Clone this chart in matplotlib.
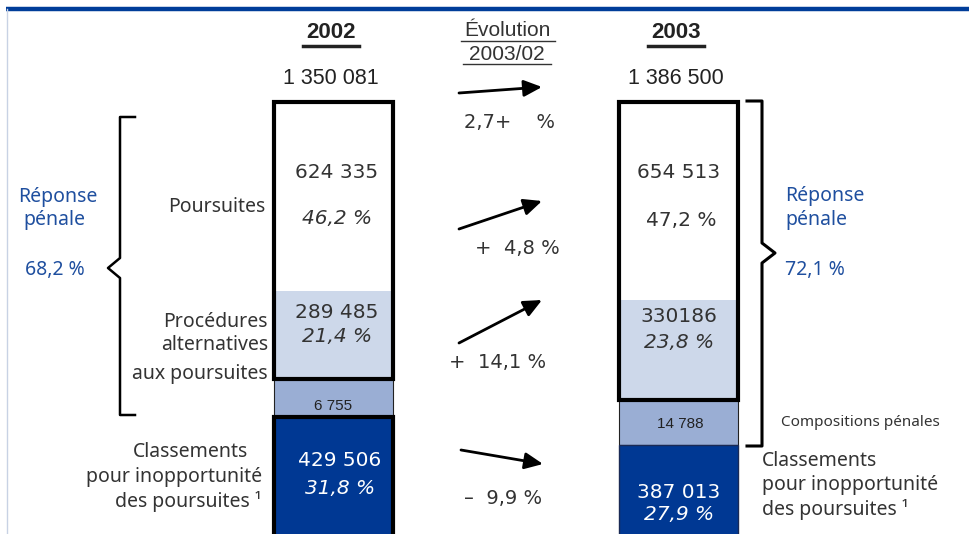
import numpy as np
import matplotlib.pyplot as plt

# data
years = ["2002", "2003"]
totals = ["1 350 081", "1 386 500"]
poursuites = np.array([624335, 654513])
alternatives = np.array([289485, 330186])
compositions = np.array([6755, 14788])
classements = np.array([429506, 387013])
lab_poursuites = ["624 335", "654 513"]
lab_alternatives = ["289 485", "330186"]
lab_compositions = ["6 755", "14 788"]
lab_classements = ["429 506", "387 013"]
pct_poursuites = ["46,2 %", "47,2 %"]
pct_alternatives = ["21,4 %", "23,8 %"]
pct_classements = ["31,8 %", "27,9 %"]
reponse_penale = ["68,2 %", "72,1 %"]
evolutions = ["2,7+    %", "+  4,8 %", "+  14,1 %", "\u2013  9,9 %"]

BLUE_TXT = "#1f4f9f"
LIGHT = "#cdd8ea"
MID = "#9aaed4"
DARK = "#003893"
GREY = "#333333"
BODY = ["Noto Sans", "DejaVu Sans"]
NUM = ["DejaVu Sans"]
NARROW = ["Liberation Sans Narrow", "Liberation Sans", "DejaVu Sans"]

fig = plt.figure(figsize=(9.7, 5.34), dpi=100)

# bars: y in counts, K counts per pixel, bar top at pixel 102
K = 3300
axb = fig.add_axes([0, 0, 1, 1], label="bars")
axb.set_xlim(0, 970)
axb.set_ylim(432 * K, -102 * K)
axb.axis("off")

xpos = np.array([334, 679])
width = 119
# compositions are enlarged in the original drawing so they stay visible
comp_shown = np.maximum(compositions * 10, 125000)

axb.bar(xpos, poursuites, width, bottom=0, color="white", zorder=1)
axb.bar(xpos, alternatives, width, bottom=poursuites, color=LIGHT, zorder=1)
axb.bar(xpos, comp_shown, width, bottom=poursuites + alternatives,
        color=MID, edgecolor="#222222", linewidth=0.8, zorder=2)
bot_cl = poursuites + alternatives + comp_shown
axb.bar(xpos, classements, width, bottom=bot_cl, color=DARK,
        edgecolor=["black", "#1a2a55"], linewidth=[3, 1], zorder=2)
axb.bar(xpos, poursuites + alternatives, width, bottom=0, fill=False,
        edgecolor="black", linewidth=3, zorder=3)

# overlay in pixel coordinates for the text
ax = fig.add_axes([0, 0, 1, 1], label="text")
ax.set_xlim(0, 970)
ax.set_ylim(534, 0)
ax.axis("off")
ax.patch.set_alpha(0)

# frame lines
ax.plot([6, 970], [9, 9], color="#003d99", lw=3.2, solid_capstyle="butt")
ax.plot([7, 7], [9, 534], color="#c8d2e4", lw=1)

# headers
for x, y, t in zip(xpos, years, totals):
    ax.text(x - 3, 33, y, ha="center", va="center", fontsize=16, fontweight="bold",
            family=NARROW, color="#222222")
    ax.plot([x - 31, x + 25], [46, 46], color="#222222", lw=2.5)
    ax.text(x - 3, 79, t, ha="center", va="center", fontsize=15.5, family=NARROW,
            color="#222222")
ax.text(507, 30, "Évolution", ha="center", va="center", fontsize=15,
        family=NARROW, color="#333333")
ax.plot([461, 555], [41, 41], color="#333333", lw=1)
ax.text(507, 54, "2003/02", ha="center", va="center", fontsize=15,
        family=NARROW, color="#333333")
ax.plot([463, 551], [64, 64], color="#333333", lw=1)

# arrows and evolution labels
arrows = [((459, 93), (542, 87)), ((459, 229), (542, 201)),
          ((459, 343), (542, 300)), ((461, 450), (543, 464))]
ev_pos = [(510, 122), (517, 248), (498, 363), (503, 499)]
for (p0, p1), (tx, ty), lab in zip(arrows, ev_pos, evolutions):
    ax.annotate("", xy=p1, xytext=p0,
                arrowprops=dict(arrowstyle="-|>,head_length=1.1,head_width=0.5",
                                color="black", lw=2, shrinkA=0, shrinkB=0))
    ax.text(tx, ty, lab, ha="center", va="center", fontsize=14, family=NUM,
            color=GREY)

# values inside bars
cx = [(337, 679), (337, 679), (333, 680), (340, 679)]
ax.text(cx[0][0], 173, lab_poursuites[0], ha="center", va="center", fontsize=14.5,
        family=NUM, color=GREY)
ax.text(cx[0][0], 218, pct_poursuites[0], ha="center", va="center", fontsize=14.5,
        family=NUM, style="italic", color=GREY)
ax.text(cx[1][0], 312, lab_alternatives[0], ha="center", va="center", fontsize=14.5,
        family=NUM, color=GREY)
ax.text(cx[1][0], 336, pct_alternatives[0], ha="center", va="center", fontsize=14.5,
        family=NUM, style="italic", color=GREY)
ax.text(cx[2][0], 406, lab_compositions[0], ha="center", va="center", fontsize=11,
        family=NARROW, color="#222222")
ax.text(cx[3][0], 460, lab_classements[0], ha="center", va="center", fontsize=14.5,
        family=NUM, color="white")
ax.text(cx[3][0], 488, pct_classements[0], ha="center", va="center", fontsize=14.5,
        family=NUM, style="italic", color="white")

ax.text(cx[0][1], 172, lab_poursuites[1], ha="center", va="center", fontsize=14.5,
        family=NUM, color=GREY)
ax.text(cx[0][1] + 2, 221, pct_poursuites[1], ha="center", va="center", fontsize=14.5,
        family=NUM, color=GREY)
ax.text(cx[1][1], 316, lab_alternatives[1], ha="center", va="center", fontsize=14.5,
        family=NUM, color=GREY)
ax.text(cx[1][1], 342, pct_alternatives[1], ha="center", va="center", fontsize=14.5,
        family=NUM, style="italic", color=GREY)
ax.text(cx[2][1], 424, lab_compositions[1], ha="center", va="center", fontsize=11,
        family=NARROW, color="#222222")
ax.text(cx[3][1], 492, lab_classements[1], ha="center", va="center", fontsize=14.5,
        family=NUM, color="white")
ax.text(cx[3][1], 515, pct_classements[1], ha="center", va="center", fontsize=14.5,
        family=NUM, style="italic", color="white")

# left side labels
ax.text(58, 197, "Réponse", ha="center", va="center", fontsize=14, family=BODY, color=BLUE_TXT)
ax.text(54, 220, "pénale", ha="center", va="center", fontsize=14, family=BODY, color=BLUE_TXT)
ax.text(55, 270, reponse_penale[0], ha="center", va="center", fontsize=14, family=BODY,
        color=BLUE_TXT)
ax.text(265, 207, "Poursuites", ha="right", va="center", fontsize=14, family=BODY, color=GREY)
for y, s in zip([322, 345, 374], ["Procédures", "alternatives", "aux poursuites"]):
    ax.text(268, y, s, ha="right", va="center", fontsize=14, family=BODY, color=GREY)
ax.text(248, 452, "Classements", ha="right", va="center", fontsize=14, family=BODY, color=GREY)
ax.text(262, 477, "pour inopportunité", ha="right", va="center", fontsize=14, family=BODY,
        color=GREY)
ax.text(262, 501, "des poursuites ¹", ha="right", va="center", fontsize=14, family=BODY,
        color=GREY)

# left brace
ax.plot([135, 120, 120, 108, 120, 120, 135],
        [117, 117, 258, 268, 278, 415, 415], color="black", lw=1.8)

# right brace
ax.plot([747, 762, 762, 775, 762, 762, 747],
        [101, 101, 243, 253, 263, 446, 446], color="black", lw=2.2)

# right side labels
ax.text(785, 196, "Réponse", ha="left", va="center", fontsize=14, family=BODY, color=BLUE_TXT)
ax.text(785, 220, "pénale", ha="left", va="center", fontsize=14, family=BODY, color=BLUE_TXT)
ax.text(785, 270, reponse_penale[1], ha="left", va="center", fontsize=14, family=BODY,
        color=BLUE_TXT)
ax.text(781, 422, "Compositions pénales", ha="left", va="center", fontsize=11, family=BODY,
        color=GREY)
for y, s in zip([461, 485, 510], ["Classements", "pour inopportunité", "des poursuites ¹"]):
    ax.text(762, y, s, ha="left", va="center", fontsize=14, family=BODY, color=GREY)

fig.savefig("out.png", dpi=100)
